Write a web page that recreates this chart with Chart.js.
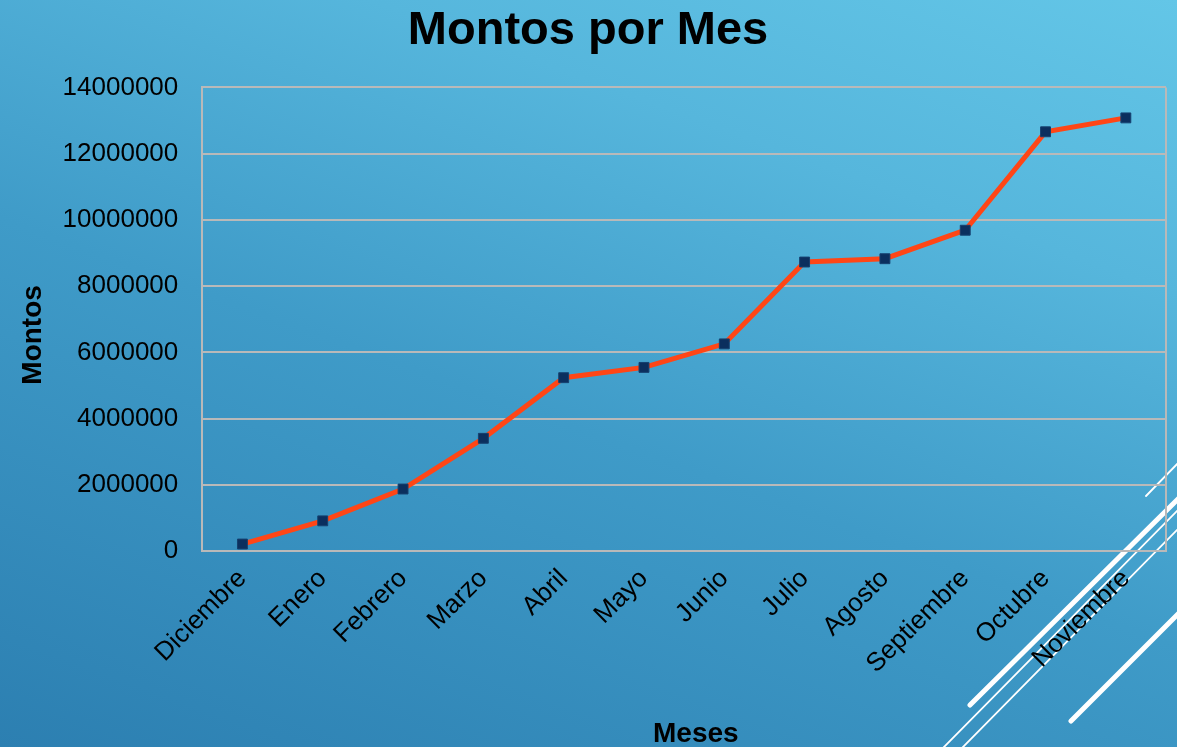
<!DOCTYPE html>
<html>
<head>
<meta charset="utf-8">
<script src="https://cdn.jsdelivr.net/npm/chart.js@4.4.1/dist/chart.umd.min.js"></script>
<style>
  html, body { margin: 0; padding: 0; }
  body {
    width: 1177px; height: 747px; overflow: hidden;
    background: linear-gradient(20deg, #2c7fb1 0%, #3f9bc8 45%, #56b6dc 75%, #63c6e7 100%);
  }
  canvas { display: block; }
</style>
</head>
<body>
<canvas id="c" width="1177" height="747"></canvas>
<script>
const categories = ['Diciembre', 'Enero', 'Febrero', 'Marzo', 'Abril', 'Mayo', 'Junio', 'Julio', 'Agosto', 'Septiembre', 'Octubre', 'Noviembre'];
const montos = [220000, 920000, 1880000, 3410000, 5240000, 5550000, 6260000, 8730000, 8830000, 9690000, 12660000, 13080000];
const yMin = 0;
const yMax = 14000000;
const yStep = 2000000;

const FONT = '"Liberation Sans", Arial, sans-serif';
const GRID = '#b9b9b9';

const decor = {
  id: 'decor',
  beforeDraw(chart) {
    const ctx = chart.ctx;
    ctx.save();
    ctx.strokeStyle = '#ffffff';
    ctx.lineCap = 'round';
    const seg = (x1, y1, x2, y2, w) => {
      ctx.lineWidth = w;
      ctx.beginPath(); ctx.moveTo(x1, y1); ctx.lineTo(x2, y2); ctx.stroke();
    };
    seg(970, 705, 1180, 497, 5);
    seg(943, 748, 1180, 508, 1.8);
    seg(962, 748, 1180, 527, 1.8);
    seg(1146, 496, 1180, 461, 1.8);
    seg(1071, 721, 1180, 612, 5);
    ctx.restore();
  },
  beforeDatasetsDraw(chart) {
    const {ctx, chartArea} = chart;
    ctx.save();
    ctx.strokeStyle = GRID;
    ctx.lineWidth = 2;
    ctx.beginPath();
    ctx.moveTo(chartArea.right, chartArea.top);
    ctx.lineTo(chartArea.right, chartArea.bottom);
    ctx.stroke();
    ctx.restore();
  }
};

new Chart(document.getElementById('c'), {
  type: 'line',
  data: {
    labels: categories,
    datasets: [{
      data: montos,
      borderColor: '#ff4616',
      borderWidth: 5,
      tension: 0,
      pointStyle: 'rect',
      pointRadius: 7,
      pointBackgroundColor: '#0b2f5e',
      pointBorderColor: '#16406f',
      pointBorderWidth: 1,
      fill: false
    }]
  },
  options: {
    responsive: false,
    animation: false,
    devicePixelRatio: 1,
    layout: { padding: { left: 10, right: 11, top: 0, bottom: 0 } },
    plugins: {
      legend: { display: false },
      tooltip: { enabled: false },
      title: {
        display: true,
        text: 'Montos por Mes',
        color: '#000',
        font: { family: FONT, size: 47, weight: 'bold' },
        padding: { top: 3, bottom: 28 }
      }
    },
    scales: {
      x: {
        type: 'category',
        offset: true,
        grid: { display: false },
        border: { display: true, color: GRID, width: 2 },
        ticks: {
          color: '#000',
          font: { family: FONT, size: 26 },
          minRotation: 45,
          maxRotation: 45,
          autoSkip: false,
          padding: 4
        },
        title: {
          display: true,
          text: '   Meses',
          color: '#000',
          font: { family: FONT, size: 28, weight: 'bold' },
          padding: { top: 34, bottom: -4 }
        }
      },
      y: {
        min: yMin,
        max: yMax,
        grid: { color: GRID, lineWidth: 2, drawTicks: false },
        border: { display: true, color: GRID, width: 2 },
        ticks: {
          stepSize: yStep,
          color: '#000',
          font: { family: FONT, size: 26 },
          padding: 24,
          callback: (v) => String(v)
        },
        title: {
          display: true,
          text: 'Montos    ',
          color: '#000',
          font: { family: FONT, size: 28, weight: 'bold' },
          padding: { top: 6, bottom: -11 }
        }
      }
    }
  },
  plugins: [decor]
});
</script>
</body>
</html>
